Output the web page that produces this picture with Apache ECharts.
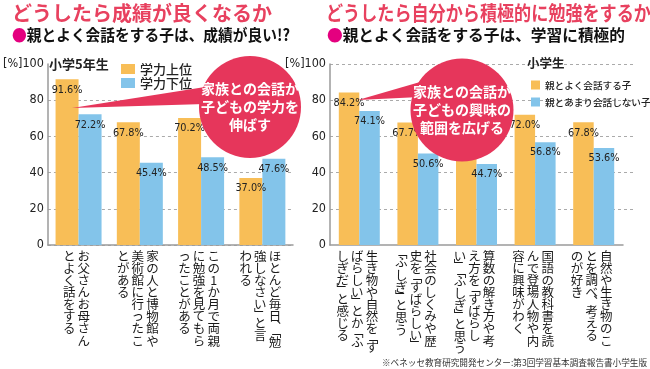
<!DOCTYPE html>
<html><head><meta charset="utf-8">
<script src="https://cdn.jsdelivr.net/npm/echarts/dist/echarts.min.js"></script>
<style>html,body{margin:0;padding:0;background:#fff}#c{width:650px;height:369px}</style>
</head><body><div id="c"></div>
<script>
// ---- data ----
const leftTitle = "どうしたら成績が良くなるか";
const leftSubtitle = "親とよく会話をする子は、成績が良い!?";
const rightTitle = "どうしたら自分から積極的に勉強をするか";
const rightSubtitle = "親とよく会話をする子は、学習に積極的";
const leftGroupLabel = "小学5年生";
const rightGroupLabel = "小学生";
const leftSeriesNames = ["学力上位", "学力下位"];
const rightSeriesNames = ["親とよく会話する子", "親とあまり会話しない子"];
const leftCategories = [
  "お父さんお母さん|とよく話をする",
  "家の人と博物館や|美術館に行ったこ|とがある",
  "この1か月で両親|に勉強を見てもら|ったことがある",
  "ほとんど毎日、「勉|強しなさい」と言|われる"
];
const leftHigh = [91.6, 67.8, 70.2, 37.0];
const leftLow = [72.2, 45.4, 48.5, 47.6];
const rightCategories = [
  "生き物や自然を「す|ばらしい」とか「ふ|しぎだ」と感じる",
  "社会のしくみや歴|史を「すばらしい」|「ふしぎ」と思う",
  "算数の解き方や考|え方を「すばらし|い」「ふしぎ」と思う",
  "国語の教科書を読|んで登場人物や内|容に興味がわく",
  "自然や生き物のこ|とを調べ、考える|のが好き"
];
const rightOften = [84.2, 67.7, 61.1, 72.0, 67.8];
const rightRarely = [74.1, 50.6, 44.7, 56.8, 53.6];
const yMin = 0, yMax = 100, yStep = 20;
const leftBubble = ["家族との会話が", "子どもの学力を", "伸ばす"];
const rightBubble = ["家族との会話が", "子どもの興味の", "範囲を広げる"];
const sourceNote = "※ベネッセ教育研究開発センター:第3回学習基本調査報告書小学生版";

// ---- style ----
const ORANGE = '#f8be57', BLUE = '#83c4ea', RED = '#e6365b', TITLE = '#e8415f', DOT = '#e4007f';
const CJK = "'Noto Sans CJK JP', 'Noto Sans', sans-serif";
const NARROW = "'Liberation Sans Narrow', 'DejaVu Sans Condensed', 'Roboto Condensed', 'Liberation Sans', sans-serif";

const chart = echarts.init(document.getElementById('c'), null, {renderer: 'canvas'});

function yAx(grid, showSplit, showMax) {
  return {
    type: 'value', gridIndex: grid, min: yMin, max: yMax, interval: yStep,
    axisLine: {show: true, lineStyle: {color: '#9a9a9a', width: 1.5}},
    axisTick: {show: false},
    axisLabel: {margin: 4, fontSize: 12.5, fontFamily: NARROW, color: '#222',
      formatter: v => v === yMax ? '[%]' + v : String(v)},
    splitLine: {show: showSplit, showMaxLine: showMax, lineStyle: {type: [3, 3], color: '#aaa', width: 1}}
  };
}
function xAx(grid, cats) {
  return {
    type: 'category', gridIndex: grid, data: cats,
    axisLine: {show: true, lineStyle: {color: '#9a9a9a', width: 1.5}},
    axisTick: {show: false}, axisLabel: {show: false}
  };
}
const lbl = {
  show: true, position: 'insideTop', distance: 5, color: '#222',
  fontSize: 10.8, fontFamily: NARROW, formatter: p => Number(p.value).toFixed(1) + '%'
};
function bar(name, x, data, color, width) {
  return {name, type: 'bar', xAxisIndex: x, yAxisIndex: x, data, barWidth: width,
    barGap: '0%', itemStyle: {color}, label: lbl, z: 2, animation: false};
}

const option = {
  animation: false,
  grid: [
    {left: 40, top: 64, width: 253, height: 181},
    {left: 330, top: 64, width: 293, height: 181},
    {left: 330, top: 64, width: 305, height: 181}
  ],
  xAxis: [xAx(0, leftCategories), xAx(1, rightCategories), {type: 'value', gridIndex: 2, min: 0, max: 1, show: false}],
  yAxis: [yAx(0, true, false), yAx(1, false, false),
    {type: 'value', gridIndex: 2, min: yMin, max: yMax, interval: yStep, axisLine: {show: false},
     axisTick: {show: false}, axisLabel: {show: false},
     splitLine: {show: true, showMinLine: false, lineStyle: {type: [3, 3], color: '#aaa', width: 1}}}],
  legend: [
    {data: leftSeriesNames, orient: 'vertical', left: 116, top: 57, itemWidth: 14, itemHeight: 10,
     itemGap: 0, icon: 'rect', textStyle: {fontSize: 13, lineHeight: 14, fontFamily: CJK, color: '#222', fontWeight: 500}},
    {data: rightSeriesNames, orient: 'vertical', left: 526, top: 74.5, itemWidth: 9, itemHeight: 9,
     itemGap: 6, icon: 'rect', textStyle: {fontSize: 9.6, lineHeight: 11, fontFamily: CJK, color: '#222', fontWeight: 500}}
  ],
  series: [
    bar(leftSeriesNames[0], 0, leftHigh, ORANGE, 23),
    bar(leftSeriesNames[1], 0, leftLow, BLUE, 23),
    bar(rightSeriesNames[0], 1, rightOften, ORANGE, 20.5),
    bar(rightSeriesNames[1], 1, rightRarely, BLUE, 20.5)
  ]
};
chart.setOption(option);

// ---- annotations ----
const HALF = {'「': '﹁', '」': '﹂', '、': '︑'};
const g = [];
function txt(x, y, text, st, extra) {
  g.push(Object.assign({type: 'text', x, y, z: 50, style: Object.assign({text, fontFamily: CJK}, st)}, extra || {}));
}
// titles
txt(12, 13, leftTitle, {fontSize: 20, fontWeight: 'bold', fill: TITLE, verticalAlign: 'middle'});
txt(326, 13, rightTitle, {fontSize: 20, fontWeight: 'bold', fill: TITLE, verticalAlign: 'middle'}, {scaleX: 0.855, originX: 0});
function sub(x, s, sx) {
  g.push({type: 'text', x, y: 35, z: 50, scaleX: sx, originX: 0, style: {
    text: '{d|●}{t|' + s + '}', verticalAlign: 'middle',
    rich: {d: {fontSize: 16, fill: DOT, fontFamily: CJK}, t: {fontSize: 16, fontWeight: 'bold', fill: '#111', fontFamily: CJK}}}});
}
sub(12, leftSubtitle, 0.92);
sub(327, rightSubtitle, 0.98);
txt(49, 64, leftGroupLabel, {fontSize: 13, fontWeight: 'bold', fill: '#222', verticalAlign: 'middle'});
txt(527, 63, rightGroupLabel, {fontSize: 12.5, fontWeight: 'bold', fill: '#222', verticalAlign: 'middle'});
// bubbles
function bubble(cx, cy, r, tip, baseX, baseTop, baseBot, lines) {
  g.push({type: 'polygon', z: 40, shape: {points: [tip, [baseX, baseTop], [baseX, baseBot]]}, style: {fill: RED}});
  g.push({type: 'circle', z: 40, shape: {cx, cy, r}, style: {fill: RED}});
  lines.forEach((l, i) => txt(cx, cy - 18 + i * 18, l,
    {fontSize: 14, fontWeight: 'bold', fill: '#fff', align: 'center', verticalAlign: 'middle'}));
}
bubble(250, 107, 51, [72, 108], 205, 87, 104, leftBubble);
bubble(462, 110, 51.5, [358, 100], 420, 82, 97, rightBubble);
// source
txt(647, 363, sourceNote, {fontSize: 8.6, fill: '#333', align: 'right', verticalAlign: 'middle'});
// vertical category labels (brackets and commas take half a cell)
function vlabels(axisIdx, cats) {
  const y0 = chart.convertToPixel({yAxisIndex: axisIdx}, 0) + 5;
  cats.forEach((c, i) => {
    const cx = chart.convertToPixel({xAxisIndex: axisIdx}, i) - 2;
    const cols = c.split('|');
    const n = cols.length;
    cols.forEach((col, j) => {
      const x = cx + ((n - 1) / 2 - j) * 14.6;
      const body = col.split('').map(ch => HALF[ch] ? '{h|' + HALF[ch] + '}' : '{n|' + ch + '}').join('\n');
      g.push({type: 'text', x, y: y0, z: 50, style: {
        text: body, align: 'center', verticalAlign: 'top', fill: '#1a1a1a',
        rich: {
          n: {fontSize: 12.5, lineHeight: 12.1, fontFamily: CJK, fill: '#1a1a1a'},
          h: {fontSize: 12.5, lineHeight: 6.6, fontFamily: CJK, fill: '#1a1a1a'}
        }}});
    });
  });
}
vlabels(0, leftCategories);
vlabels(1, rightCategories);
chart.setOption({graphic: {elements: g}});
</script></body></html>
